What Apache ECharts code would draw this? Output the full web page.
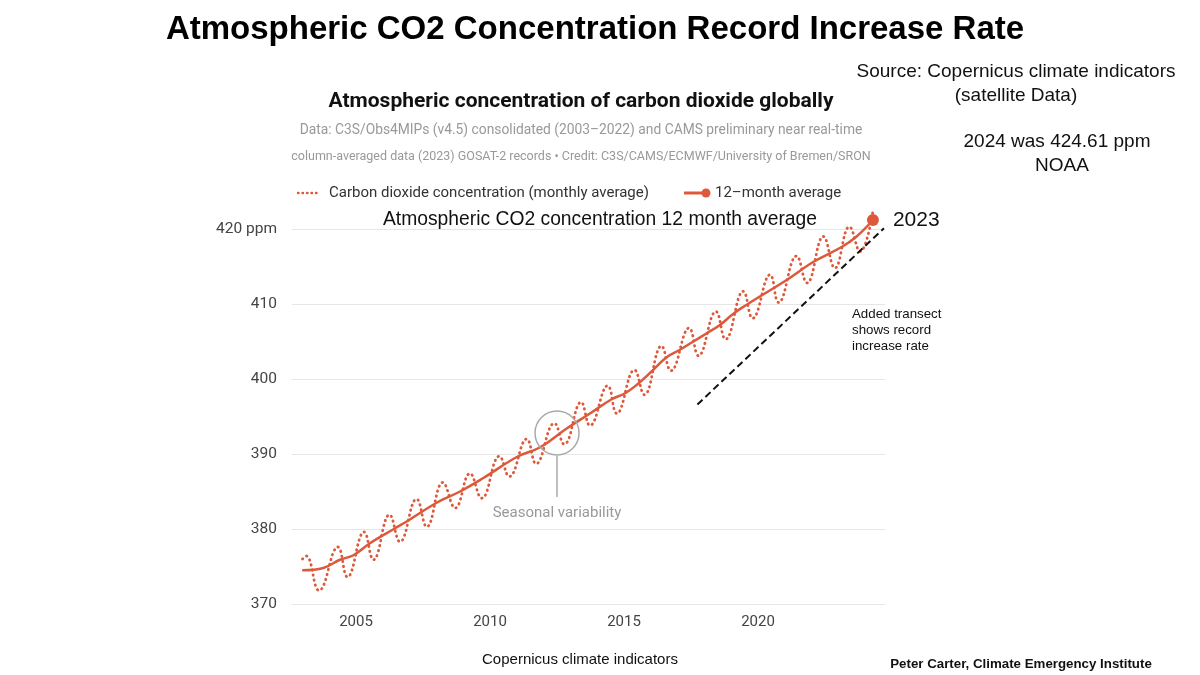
<!DOCTYPE html>
<html>
<head>
<meta charset="utf-8">
<script src="https://cdn.jsdelivr.net/npm/echarts@6/dist/echarts.min.js"></script>
<style>
  html, body { margin: 0; padding: 0; background: #fff; }
  #main { width: 1200px; height: 675px; }
</style>
</head>
<body>
<div id="main"></div>
<script>
// monthly CO2 curve, read at its turning points (decimal year, ppm)
var monthlyYears = [2003.00, 2003.14, 2003.62, 2004.32, 2004.68, 2005.30, 2005.65, 2006.25, 2006.64,
  2007.26, 2007.64, 2008.24, 2008.70, 2009.25, 2009.69, 2010.35, 2010.72, 2011.37, 2011.72,
  2012.40, 2012.77, 2013.40, 2013.73, 2014.39, 2014.73, 2015.39, 2015.76, 2016.40, 2016.75,
  2017.43, 2017.78, 2018.43, 2018.79, 2019.45, 2019.80, 2020.45, 2020.77, 2021.44, 2021.83,
  2022.44, 2022.87, 2023.41, 2023.81, 2024.29];
var monthlyPpm = [376.0, 376.4, 371.8, 377.6, 373.6, 379.6, 375.9, 381.9, 378.3,
  384.0, 380.3, 386.2, 382.8, 387.4, 384.1, 389.7, 387.0, 392.0, 388.7,
  394.1, 391.3, 396.9, 393.8, 399.1, 395.4, 401.2, 397.9, 404.4, 401.1,
  406.8, 403.1, 409.0, 405.3, 411.7, 408.1, 413.9, 410.2, 416.4, 412.8,
  419.0, 414.8, 420.3, 417.0, 422.4];

// 12-month running average
var avgYears = [2002.99, 2003.78, 2004.40, 2004.90, 2005.52, 2006.46, 2006.89, 2008.01, 2008.88,
  2009.75, 2011.00, 2011.87, 2012.86, 2013.73, 2014.54, 2015.04, 2015.47, 2016.03, 2016.59,
  2017.09, 2017.59, 2018.09, 2018.58, 2019.08, 2019.58, 2020.07, 2021.07, 2022.06, 2023.12,
  2023.68, 2024.29];
var avgPpm = [374.5, 374.8, 375.9, 376.5, 378.1, 380.1, 381.0, 383.5, 385.0,
  386.8, 389.6, 390.9, 393.4, 395.4, 397.3, 398.1, 399.2, 401.0, 402.9,
  403.9, 405.0, 406.1, 407.2, 408.7, 409.9, 411.0, 413.2, 415.6, 417.6,
  419.0, 421.2];

var yearTicks = [2005, 2010, 2015, 2020];
var endLabel = '2023';

// hand-drawn transect (start, end) and seasonal callout, in data units
var transectYears = [2017.74, 2024.70];
var transectPpm = [396.6, 420.1];
var seasonalSpot = [2012.50, 392.8];

var RED = '#dc5a3b';

var myChart = echarts.init(document.getElementById('main'));

var monthlyData = monthlyYears.map(function(y, i) { return [y, monthlyPpm[i]]; });
var transectData = transectYears.map(function(y, i) { return [y, transectPpm[i]]; });
var avgData = avgYears.map(function(y, i) {
  if (i === avgYears.length - 1) {
    return {
      value: [y, avgPpm[i]],
      symbol: 'circle',
      symbolSize: 12,
      label: {
        show: true, position: 'right', distance: 14,
        formatter: endLabel, color: '#111', fontSize: 21,
        fontFamily: 'Liberation Sans'
      }
    };
  }
  return [y, avgPpm[i]];
});

var option = {
  backgroundColor: '#fff',
  animation: false,
  grid: { left: 292, right: 315, top: 229, bottom: 71 },
  xAxis: {
    type: 'value',
    min: 2002.61,
    max: 2024.74,
    axisLine: { show: false },
    axisTick: { show: false },
    splitLine: { show: false },
    axisLabel: {
      customValues: yearTicks,
      color: '#444', fontSize: 15, margin: 11,
      fontFamily: 'Roboto',
      formatter: function(v) { return String(v); }
    }
  },
  yAxis: {
    type: 'value',
    min: 370,
    max: 420,
    interval: 10,
    axisLine: { show: false },
    axisTick: { show: false },
    splitLine: { lineStyle: { color: '#e6e6e6', width: 1 } },
    axisLabel: {
      color: '#444', fontSize: 15.5, margin: 15,
      fontFamily: 'Roboto',
      formatter: function(v) { return v === 420 ? '420 ppm' : String(v); }
    }
  },
  series: [
    {
      name: 'Carbon dioxide concentration (monthly average)',
      type: 'line',
      data: monthlyData,
      smooth: 0.45,
      symbol: 'none',
      clip: false,
      lineStyle: { color: RED, width: 2.8, type: [0.5, 4.6], cap: 'round' },
      z: 2
    },
    {
      name: '12-month average',
      type: 'line',
      data: avgData,
      smooth: 0.4,
      symbol: 'none',
      showSymbol: true,
      showAllSymbol: true,
      clip: false,
      itemStyle: { color: RED },
      lineStyle: { color: RED, width: 2.5 },
      z: 3,
      markPoint: {
        silent: true,
        symbol: 'circle',
        symbolSize: 44,
        itemStyle: { color: 'rgba(0,0,0,0)', borderColor: '#aaa', borderWidth: 1.5 },
        label: { show: false },
        data: [{ coord: seasonalSpot }]
      }
    },
    {
      name: 'transect',
      type: 'line',
      data: transectData,
      symbol: 'none',
      clip: false,
      silent: true,
      lineStyle: { color: '#111', width: 2, type: [7, 4] },
      z: 4
    }
  ],
  graphic: [
    { type: 'text', x: 595, y: 30,
      style: { text: 'Atmospheric CO2 Concentration Record Increase Rate', font: 'bold 33px "Liberation Sans"', fill: '#000', textAlign: 'center', textVerticalAlign: 'middle' } },
    { type: 'text', x: 581, y: 102,
      style: { text: 'Atmospheric concentration of carbon dioxide globally', font: 'bold 21px Roboto', fill: '#111', textAlign: 'center', textVerticalAlign: 'middle' } },
    { type: 'text', x: 581, y: 131,
      style: { text: 'Data: C3S/Obs4MIPs (v4.5) consolidated (2003–2022) and CAMS preliminary near real-time', font: '13.8px Roboto', fill: '#999', textAlign: 'center', textVerticalAlign: 'middle' } },
    { type: 'text', x: 581, y: 157,
      style: { text: 'column-averaged data (2023) GOSAT-2 records • Credit: C3S/CAMS/ECMWF/University of Bremen/SRON', font: '12.5px Roboto', fill: '#999', textAlign: 'center', textVerticalAlign: 'middle' } },
    // legend
    { type: 'line', shape: { x1: 298, y1: 193, x2: 318, y2: 193 },
      style: { stroke: RED, lineWidth: 2.4, lineDash: [0.5, 4], lineCap: 'round' } },
    { type: 'text', x: 329, y: 193,
      style: { text: 'Carbon dioxide concentration (monthly average)', font: '15px Roboto', fill: '#333', textVerticalAlign: 'middle' } },
    { type: 'line', shape: { x1: 684, y1: 193, x2: 704, y2: 193 },
      style: { stroke: RED, lineWidth: 3 } },
    { type: 'circle', shape: { cx: 706, cy: 193, r: 4.5 }, style: { fill: RED } },
    { type: 'text', x: 715, y: 193,
      style: { text: '12–month average', font: '15px Roboto', fill: '#333', textVerticalAlign: 'middle' } },
    // overlay annotations
    { type: 'text', x: 600, y: 220,
      style: { text: 'Atmospheric CO2 concentration 12 month average', font: '19.3px "Liberation Sans"', fill: '#111', textAlign: 'center', textVerticalAlign: 'middle' } },
    { type: 'text', x: 1016, y: 72,
      style: { text: 'Source: Copernicus climate indicators', font: '19px "Liberation Sans"', fill: '#111', textAlign: 'center', textVerticalAlign: 'middle' } },
    { type: 'text', x: 1016, y: 96,
      style: { text: '(satellite Data)', font: '19px "Liberation Sans"', fill: '#111', textAlign: 'center', textVerticalAlign: 'middle' } },
    { type: 'text', x: 1057, y: 142,
      style: { text: '2024 was 424.61 ppm', font: '19px "Liberation Sans"', fill: '#111', textAlign: 'center', textVerticalAlign: 'middle' } },
    { type: 'text', x: 1062, y: 166,
      style: { text: 'NOAA', font: '19px "Liberation Sans"', fill: '#111', textAlign: 'center', textVerticalAlign: 'middle' } },
    { type: 'text', x: 852, y: 306,
      style: { text: 'Added transect\nshows record\nincrease rate', font: '13.3px "Liberation Sans"', fill: '#111', lineHeight: 16 } },
    { type: 'line', shape: { x1: 557, y1: 456, x2: 557, y2: 497 },
      style: { stroke: '#aaa', lineWidth: 1.5 } },
    { type: 'text', x: 557, y: 513,
      style: { text: 'Seasonal variability', font: '15px Roboto', fill: '#999', textAlign: 'center', textVerticalAlign: 'middle' } },
    { type: 'text', x: 580, y: 660,
      style: { text: 'Copernicus climate indicators', font: '15px "Liberation Sans"', fill: '#111', textAlign: 'center', textVerticalAlign: 'middle' } },
    { type: 'text', x: 1021, y: 664,
      style: { text: 'Peter Carter, Climate Emergency Institute', font: 'bold 13.3px "Liberation Sans"', fill: '#111', textAlign: 'center', textVerticalAlign: 'middle' } }
  ]
};

myChart.setOption(option);
</script>
</body>
</html>
